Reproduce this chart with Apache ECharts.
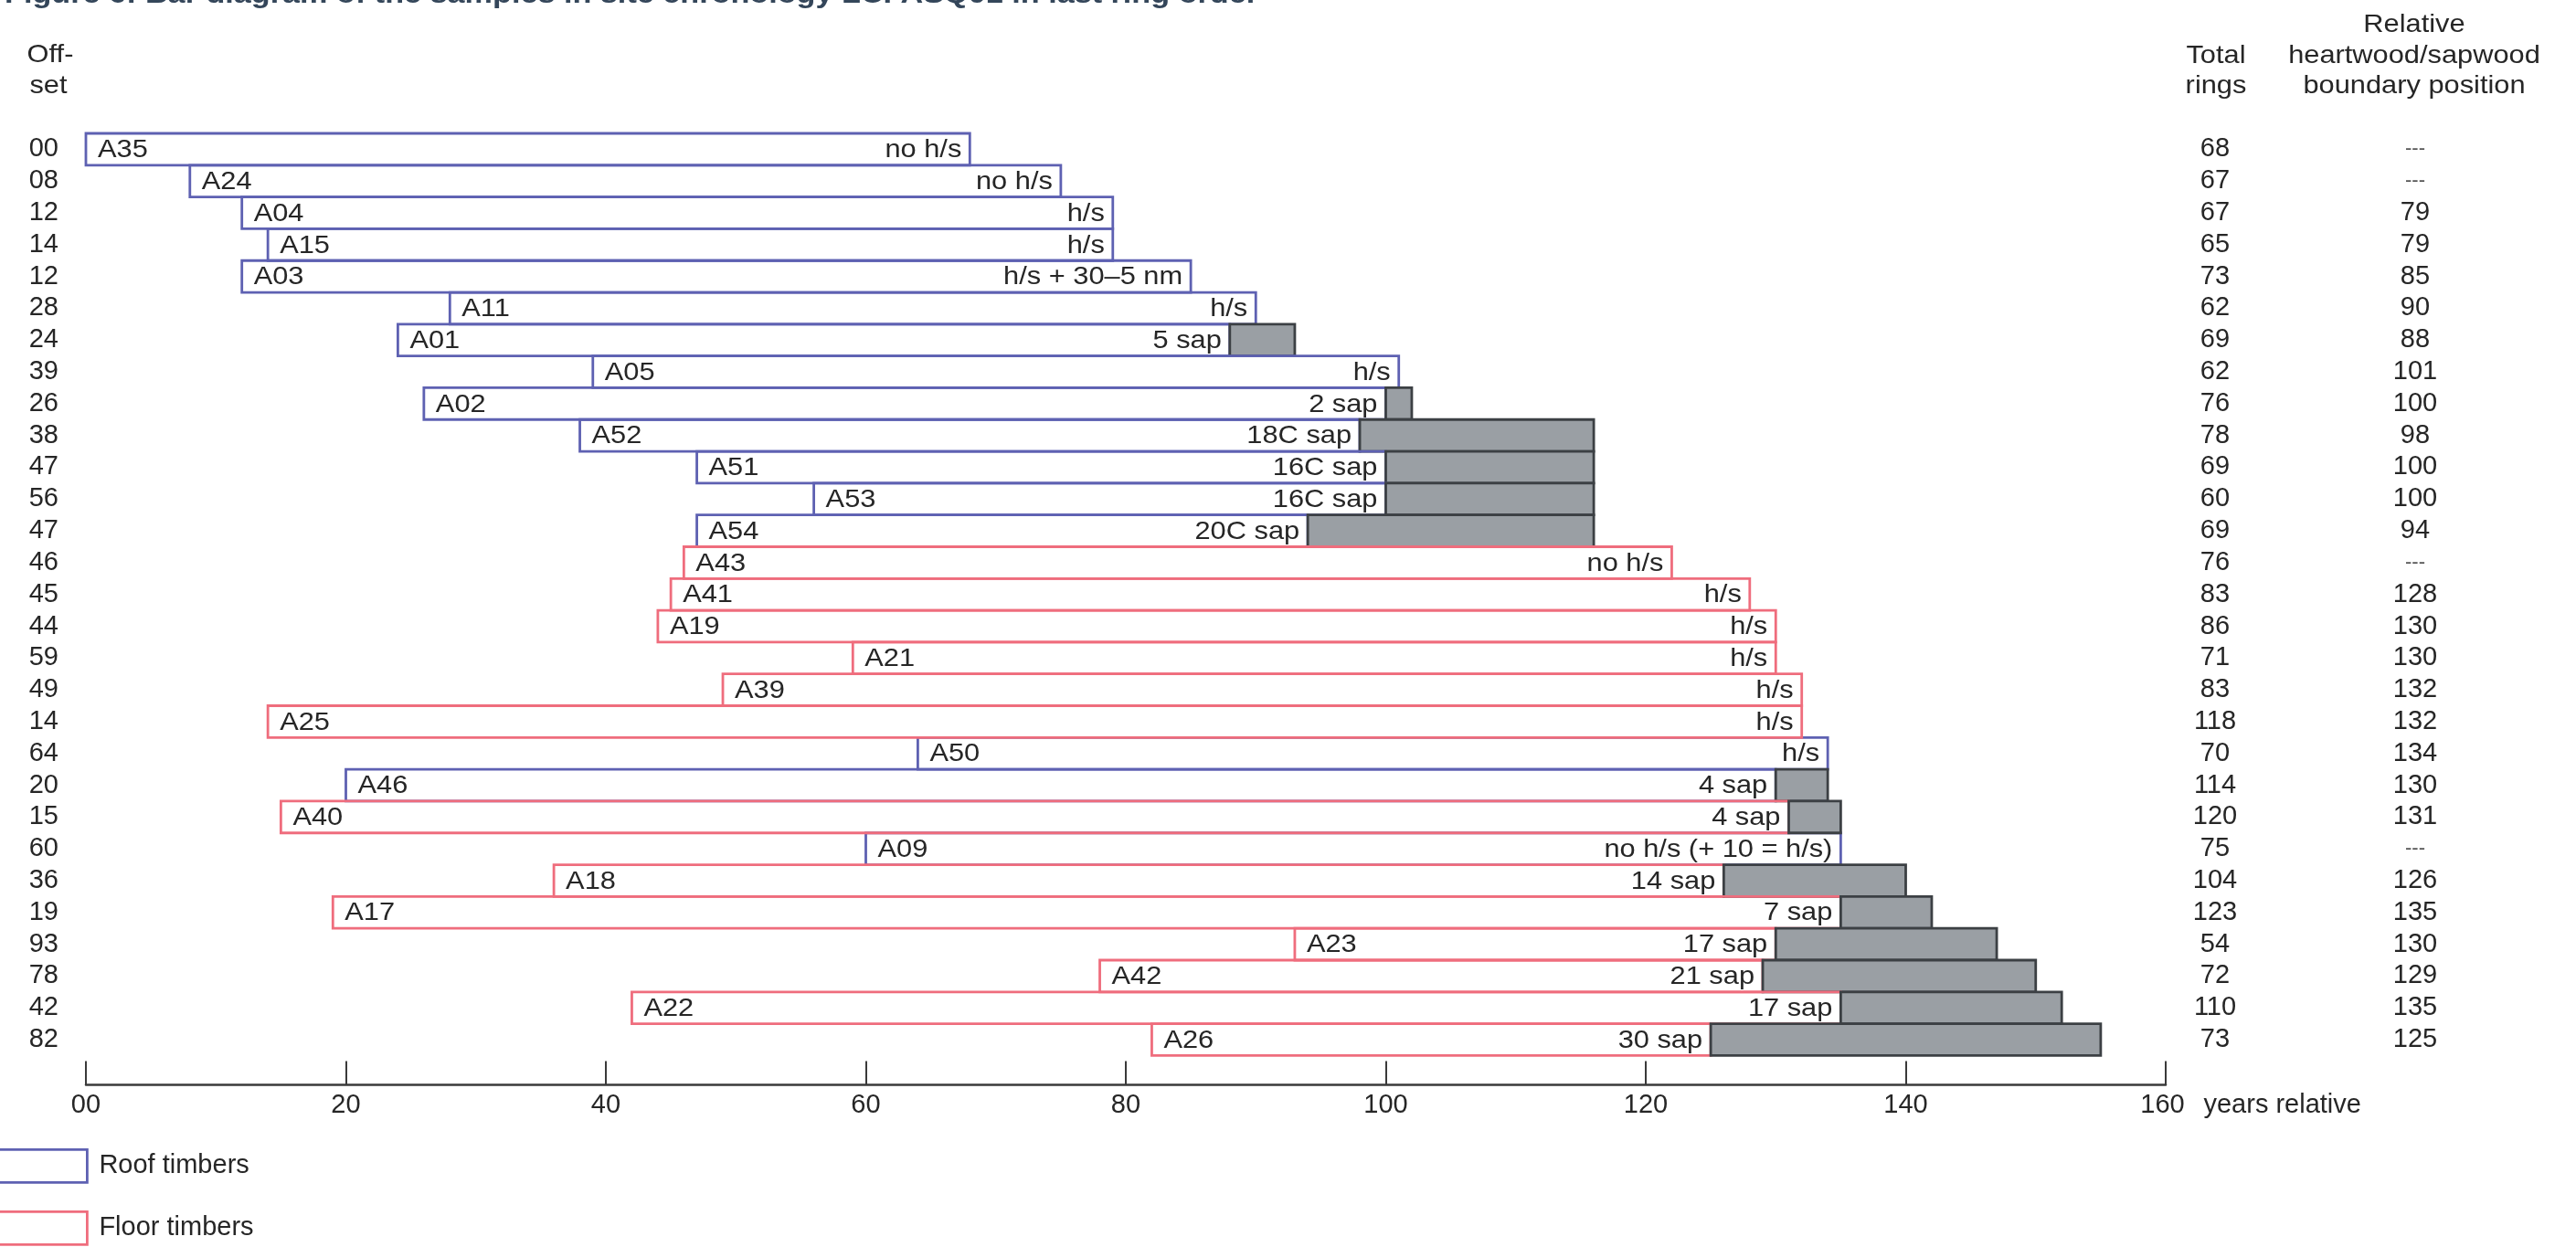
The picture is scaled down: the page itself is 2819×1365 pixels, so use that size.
<!DOCTYPE html>
<html>
<head>
<meta charset="utf-8">
<script src="https://cdn.jsdelivr.net/npm/echarts@6/dist/echarts.min.js"></script>
<style>
html,body{margin:0;padding:0;background:#fff;}
#chart{width:2819px;height:1365px;}
</style>
</head>
<body>
<div id="chart"></div>
<script>
// ---------------- data ----------------
const sampleNames = ['A35','A24','A04','A15','A03','A11','A01','A05','A02','A52','A51','A53','A54','A43','A41','A19','A21','A39','A25','A50','A46','A40','A09','A18','A17','A23','A42','A22','A26'];
const offsetLabels = ['00','08','12','14','12','28','24','39','26','38','47','56','47','46','45','44','59','49','14','64','20','15','60','36','19','93','78','42','82'];
const offsets = [0,8,12,14,12,28,24,39,26,38,47,56,47,46,45,44,59,49,14,64,20,15,60,36,19,93,78,42,82];
const totalRings = [68,67,67,65,73,62,69,62,76,78,69,60,69,76,83,86,71,83,118,70,114,120,75,104,123,54,72,110,73];
const hsBoundary = [null,null,79,79,85,90,88,101,100,98,100,100,94,null,128,130,130,132,132,134,130,131,null,126,135,130,129,135,125];
const notes = ['no h/s','no h/s','h/s','h/s','h/s + 30\u20135 nm','h/s','5 sap','h/s','2 sap','18C sap','16C sap','16C sap','20C sap','no h/s','h/s','h/s','h/s','h/s','h/s','h/s','4 sap','4 sap','no h/s (+ 10 = h/s)','14 sap','7 sap','17 sap','21 sap','17 sap','30 sap'];
const timberType = ['roof','roof','roof','roof','roof','roof','roof','roof','roof','roof','roof','roof','roof','floor','floor','floor','floor','floor','floor','roof','roof','floor','roof','floor','floor','floor','floor','floor','floor'];
const xTickLabels = ['00','20','40','60','80','100','120','140','160'];
const xUnit = 'years relative';
const legendNames = {roof: 'Roof timbers', floor: 'Floor timbers'};
const titleText = 'Figure 6: Bar diagram of the samples in site chronology LCFASQ01 in last ring order';

// ---------------- styles ----------------
const FONT = "'Liberation Sans', Arial, sans-serif";
const BLUE = '#5e61b2', RED = '#ef6d7d', GRAY = '#9a9fa4', DARK = '#3c4044', TEXT = '#262626';
const SX = 1.1; // horizontal stretch of text in reference
const FS = 28;

function rowData(type) {
  const out = [];
  sampleNames.forEach((n, i) => {
    if (timberType[i] !== type) return;
    const end = offsets[i] + totalRings[i];
    const b = hsBoundary[i];
    const hEnd = (b != null && b < end) ? b : end;
    out.push([i, offsets[i], hEnd, end, i]);
  });
  return out;
}

function makeRender(color) {
  return function (params, api) {
    const row = api.value(0), start = api.value(1), hEnd = api.value(2), end = api.value(3), idx = api.value(4);
    const p0 = api.coord([start, row]);
    const p1 = api.coord([hEnd, row]);
    const p2 = api.coord([end, row]);
    const h = api.size([0, 1])[1];
    const children = [];
    children.push({
      type: 'rect',
      shape: {x: p0[0], y: p0[1] - h / 2, width: p1[0] - p0[0], height: h},
      style: {fill: 'rgba(255,255,255,0)', stroke: color, lineWidth: 2.8}
    });
    if (end > hEnd) {
      children.push({
        type: 'rect',
        shape: {x: p1[0], y: p1[1] - h / 2, width: p2[0] - p1[0], height: h},
        style: {fill: GRAY, stroke: DARK, lineWidth: 2.8}
      });
    }
    children.push({
      type: 'text', x: p0[0] + 13, y: p0[1] + 1, scaleX: SX,
      style: {text: sampleNames[idx], fill: TEXT, fontSize: FS, fontFamily: FONT, align: 'left', verticalAlign: 'middle'}
    });
    children.push({
      type: 'text', x: p1[0] - 9, y: p1[1] + 1, scaleX: SX,
      style: {text: notes[idx], fill: TEXT, fontSize: FS, fontFamily: FONT, align: 'right', verticalAlign: 'middle'}
    });
    return {type: 'group', children: children};
  };
}

function headerText(txt, x, y, align) {
  return {type: 'text', x: x, y: y, scaleX: SX,
    style: {text: txt, fill: TEXT, fontSize: FS, fontFamily: FONT, align: align || 'center', verticalAlign: 'middle'}};
}

function legendBox(name, color, top) {
  return {
    orient: 'vertical', left: -3, top: top, padding: 0, itemWidth: 97, itemHeight: 36,
    selectedMode: false,
    textStyle: {fontSize: 29, fontFamily: FONT, color: TEXT, padding: [0, 0, 0, 8]},
    data: [{name: name, icon: 'rect', itemStyle: {color: '#fff', borderColor: color, borderWidth: 2.8}}]
  };
}

const chart = echarts.init(document.getElementById('chart'));
chart.setOption({
  animation: false,
  backgroundColor: '#fff',
  grid: {left: 94, right: 449, top: 146, bottom: 209.6},
  xAxis: {
    type: 'value', min: 0, max: 160, interval: 20, offset: 32,
    splitLine: {show: false},
    axisLine: {show: true, lineStyle: {color: '#3a3a3a', width: 2.5}},
    axisTick: {show: true, inside: true, length: 26, lineStyle: {color: '#3a3a3a', width: 2}},
    axisLabel: {
      margin: 8, color: TEXT, fontSize: 29, fontFamily: FONT, showMinLabel: true, showMaxLabel: true,
      formatter: function (v) {
        const i = Math.round(v / 20);
        const t = xTickLabels[i];
        if (i === xTickLabels.length - 1) return '{pad|}{v|' + t + '}{u|' + xUnit + '}';
        return t;
      },
      rich: {
        pad: {width: 200, fontSize: 29, fontFamily: FONT},
        v: {fontSize: 29, fontFamily: FONT, color: TEXT},
        u: {width: 200, align: 'left', fontSize: 29, fontFamily: FONT, color: TEXT, padding: [0, 0, 0, 7]}
      }
    }
  },
  yAxis: [
    {
      type: 'category', data: sampleNames, inverse: true,
      axisLine: {show: false}, axisTick: {show: false}, splitLine: {show: false},
      axisLabel: {interval: 0, margin: 30, color: TEXT, fontSize: 29, fontFamily: FONT,
        formatter: function (v, i) { return offsetLabels[i]; }}
    },
    {
      type: 'category', data: sampleNames, inverse: true, position: 'right',
      axisLine: {show: false}, axisTick: {show: false}, splitLine: {show: false},
      axisLabel: {interval: 0, margin: 0, align: 'left', color: TEXT, fontSize: 29, fontFamily: FONT,
        formatter: function (v, i) {
          const b = hsBoundary[i];
          return '{a|' + totalRings[i] + '}' + (b == null ? '{c|---}' : '{b|' + b + '}');
        },
        rich: {
          a: {width: 108, align: 'center', fontSize: 29, fontFamily: FONT, color: TEXT},
          b: {width: 330, align: 'center', fontSize: 29, fontFamily: FONT, color: TEXT},
          c: {width: 330, align: 'center', fontSize: 22, fontFamily: FONT, color: '#555'}
        }
      }
    }
  ],
  legend: [
    legendBox(legendNames.roof, BLUE, 1257),
    legendBox(legendNames.floor, RED, 1325)
  ],
  graphic: [
    {type: 'text', x: 5, y: -5, scaleX: 1.14,
      style: {text: titleText, fill: '#34465a', fontSize: 30, fontWeight: 'bold', fontFamily: FONT, align: 'left', verticalAlign: 'middle'}},
    headerText('Off-', 55, 60),
    headerText('set', 53, 94),
    headerText('Total', 2425, 61),
    headerText('rings', 2425, 94),
    headerText('Relative', 2642, 27),
    headerText('heartwood/sapwood', 2642, 61),
    headerText('boundary position', 2642, 94)
  ],
  series: [
    {name: legendNames.roof, type: 'custom', color: BLUE, renderItem: makeRender(BLUE),
      encode: {x: [1, 2, 3], y: 0}, data: rowData('roof'), xAxisIndex: 0, yAxisIndex: 0},
    {name: legendNames.floor, type: 'custom', color: RED, renderItem: makeRender(RED),
      encode: {x: [1, 2, 3], y: 0}, data: rowData('floor'), xAxisIndex: 0, yAxisIndex: 0}
  ]
});
</script>
</body>
</html>
